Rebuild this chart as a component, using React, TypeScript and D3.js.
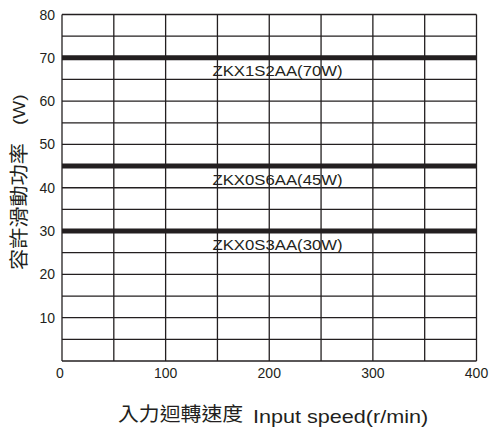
import React from "react";
import * as d3 from "d3";

const xTicks = [0, 100, 200, 300, 400];
const xGrid = [0, 50, 100, 150, 200, 250, 300, 350, 400];
const yTicks = [10, 20, 30, 40, 50, 60, 70, 80];
const yGrid = [0, 5, 10, 15, 20, 25, 30, 35, 40, 45, 50, 55, 60, 65, 70, 75, 80];
const seriesNames = ["ZKX1S2AA(70W)", "ZKX0S6AA(45W)", "ZKX0S3AA(30W)"];
const seriesValues = [70, 45, 30];
const labelX = 208;
const xTitleCJK = "入力迴轉速度";
const xTitleLatin = "Input speed(r/min)";
const yTitleCJK = "容許滑動功率";
const yTitleLatin = "(W)";

export default function App() {
  const W = 490, H = 429;
  const x = d3.scaleLinear().domain([0, 400]).range([62, 476.5]);
  const y = d3.scaleLinear().domain([0, 80]).range([361, 14.5]);
  const font = "'Liberation Sans', Arial, sans-serif";
  const cjk = "'Noto Sans CJK TC', sans-serif";
  const ink = "#231f20";
  return (
    <svg width={W} height={H} style={{ position: "absolute", left: 0, top: 0 }}>
      <rect width={W} height={H} fill="#fff" />
      {xGrid.map((v) => (
        <line key={"x" + v} x1={x(v)} x2={x(v)} y1={y(0)} y2={y(80)} stroke={ink} strokeWidth={1.3} />
      ))}
      {yGrid.map((v) => (
        <line key={"y" + v} x1={x(0)} x2={x(400)} y1={y(v)} y2={y(v)} stroke={ink} strokeWidth={1.3} />
      ))}
      {seriesValues.map((v, i) => (
        <g key={"s" + i}>
          <line x1={x(0)} x2={x(400)} y1={y(v)} y2={y(v)} stroke={ink} strokeWidth={5} />
          <text
            transform={`translate(${x(labelX)},${y(v) + 18.5}) scale(1.08,1)`}
            textAnchor="middle"
            fontFamily={font}
            fontSize={15.5}
            fill={ink}
          >
            {seriesNames[i]}
          </text>
        </g>
      ))}
      {xTicks.map((v) => (
        <text key={"xt" + v} x={x(v) - (v === 0 ? 2 : 0)} y={y(0) + 17} textAnchor="middle" fontFamily={font} fontSize={14} fill={ink}>
          {v}
        </text>
      ))}
      {yTicks.map((v) => (
        <text key={"yt" + v} x={x(0) - 7} y={y(v) + 5} textAnchor="end" fontFamily={font} fontSize={14} fill={ink}>
          {v}
        </text>
      ))}
      <g transform="translate(26,0) rotate(-90)">
        <text transform="translate(-270,0) scale(1.085,1)" fontFamily={cjk} fontSize={19.5} fill={ink}>
          {yTitleCJK}
        </text>
        <text transform="translate(-125,-1) scale(1.12,1)" fontFamily={font} fontSize={17} fill={ink}>
          {yTitleLatin}
        </text>
      </g>
      <text transform="translate(118,421) scale(1.07,1)" fontFamily={cjk} fontSize={19.5} fill={ink}>
        {xTitleCJK}
      </text>
      <text transform="translate(253,423) scale(1.2,1)" fontFamily={font} fontSize={18} fill={ink}>
        {xTitleLatin}
      </text>
    </svg>
  );
}
